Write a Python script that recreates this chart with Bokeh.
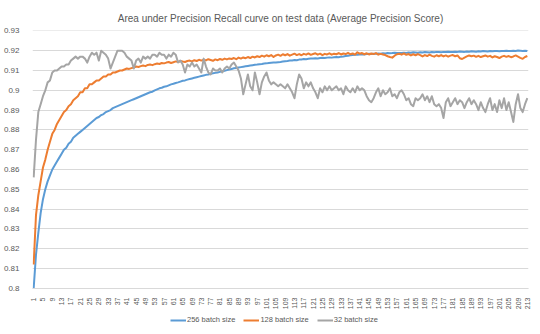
from bokeh.plotting import figure
from bokeh.layouts import column
from bokeh.models import Range1d, FixedTicker, Legend, LegendItem, ColumnDataSource
from bokeh.embed import file_html
from bokeh.resources import INLINE
import math

title_text = "Area under Precision Recall curve on test data (Average Precision Score)"
series_names = ["256 batch size", "128 batch size", "32 batch size"]
series_colors = ["#5B9BD5", "#ED7D31", "#A5A5A5"]

epochs = list(range(1, 214))
x_tick_values = list(range(1, 214, 4))
y_tick_values = [0.80, 0.81, 0.82, 0.83, 0.84, 0.85, 0.86, 0.87, 0.88, 0.89, 0.90, 0.91, 0.92, 0.93]
y_tick_labels = ["0.8", "0.81", "0.82", "0.83", "0.84", "0.85", "0.86", "0.87", "0.88", "0.89", "0.9", "0.91", "0.92", "0.93"]

batch_256 = [
    0.800, 0.817, 0.828, 0.838, 0.845, 0.850, 0.854, 0.857, 0.860, 0.862,
    0.864, 0.866, 0.868, 0.870, 0.871, 0.873, 0.874, 0.876, 0.877, 0.878,
    0.879, 0.880, 0.881, 0.882, 0.883, 0.884, 0.885, 0.886, 0.8865, 0.8875,
    0.888, 0.889, 0.8895, 0.890, 0.891, 0.8915, 0.892, 0.8925, 0.893, 0.8935,
    0.894, 0.8945, 0.895, 0.8955, 0.896, 0.8965, 0.897, 0.8975, 0.898, 0.8985,
    0.899, 0.8993, 0.900, 0.9005, 0.901, 0.9013, 0.9018, 0.902, 0.9025, 0.903,
    0.9033, 0.9037, 0.904, 0.9044, 0.9048, 0.905, 0.9054, 0.9057, 0.906, 0.9063,
    0.9066, 0.9069, 0.9072, 0.9075, 0.9078, 0.908, 0.9083, 0.9086, 0.9088, 0.909,
    0.9093, 0.9096, 0.9099, 0.9102, 0.9105, 0.9108, 0.9111, 0.9113, 0.9115, 0.9117,
    0.9119, 0.9121, 0.9123, 0.9125, 0.9127, 0.9129, 0.913, 0.9132, 0.9133, 0.9135,
    0.9136, 0.9138, 0.9139, 0.914, 0.9141, 0.9142, 0.9143, 0.9145, 0.9147, 0.9148,
    0.915, 0.9151, 0.9153, 0.9152, 0.9155, 0.9156, 0.9158, 0.9157, 0.9159, 0.916,
    0.9161, 0.9162, 0.9161, 0.9163, 0.9164, 0.9163, 0.9165, 0.9166, 0.9165, 0.9167,
    0.9168, 0.9167, 0.917, 0.9171, 0.9173, 0.9175, 0.9177, 0.9178, 0.9179, 0.918,
    0.9181, 0.9182, 0.9181, 0.9183, 0.9184, 0.9183, 0.9185, 0.9184, 0.9186, 0.9185,
    0.9187, 0.9186, 0.9188, 0.9187, 0.9188, 0.919, 0.9188, 0.9189, 0.9188, 0.919,
    0.9189, 0.9191, 0.919, 0.9192, 0.9191, 0.919, 0.9192, 0.9191, 0.9193, 0.9192,
    0.9191, 0.9193, 0.9192, 0.9194, 0.9193, 0.9192, 0.9194, 0.9193, 0.9195, 0.9194,
    0.9193, 0.9195, 0.9194, 0.9196, 0.9195, 0.9194, 0.9196, 0.9195, 0.9197, 0.9196,
    0.9195, 0.9197, 0.9196, 0.9198, 0.9197, 0.9196, 0.9198, 0.9197, 0.9199, 0.9198,
    0.9197, 0.9199, 0.9198, 0.92, 0.9199, 0.9198, 0.92, 0.9199, 0.9201, 0.92,
    0.9199, 0.92, 0.9198,
]

batch_128 = [
    0.812, 0.837, 0.847, 0.854, 0.861, 0.865, 0.870, 0.874, 0.878, 0.880,
    0.883, 0.885, 0.887, 0.889, 0.890, 0.892, 0.893, 0.895, 0.896, 0.897,
    0.899, 0.899, 0.901, 0.901, 0.903, 0.903, 0.904, 0.905, 0.905, 0.906,
    0.907, 0.907, 0.908, 0.908, 0.909, 0.909, 0.9095, 0.910, 0.910, 0.9105,
    0.911, 0.9108, 0.9112, 0.9115, 0.912, 0.9118, 0.9122, 0.9125, 0.9122, 0.9128,
    0.913, 0.9127, 0.9132, 0.9135, 0.9133, 0.9138, 0.9136, 0.914, 0.9143, 0.9138,
    0.9142, 0.9146, 0.9143, 0.9148, 0.9145, 0.9143, 0.9148, 0.915, 0.9146, 0.9152,
    0.9148, 0.9154, 0.915, 0.9155, 0.9151, 0.9157, 0.9153, 0.9149, 0.9156, 0.9152,
    0.9158, 0.9154, 0.916, 0.9156, 0.9161, 0.9158, 0.9163, 0.9157, 0.9165, 0.916,
    0.9166, 0.9162, 0.9168, 0.9163, 0.917, 0.9166, 0.9172, 0.9168, 0.9175, 0.917,
    0.9177, 0.9172, 0.9178, 0.9168, 0.9176, 0.918, 0.9174, 0.9182, 0.9177, 0.9183,
    0.9175, 0.918, 0.9185, 0.9178, 0.9183, 0.9177, 0.9184, 0.918, 0.9186, 0.9179,
    0.9183, 0.9187, 0.918, 0.9185, 0.9178, 0.9184, 0.9181, 0.9187, 0.918, 0.9185,
    0.9182, 0.9188, 0.9181, 0.9186, 0.9183, 0.9189, 0.9182, 0.9186, 0.918, 0.9192,
    0.9185, 0.9188, 0.9182, 0.9187, 0.9181, 0.9186, 0.9183, 0.9188, 0.918, 0.9184,
    0.9181, 0.9178, 0.9172, 0.9168, 0.9165, 0.9175, 0.9182, 0.9185, 0.918, 0.9186,
    0.9179, 0.9183, 0.9176, 0.9182, 0.9177, 0.9183, 0.9178, 0.9171, 0.9178, 0.9173,
    0.918, 0.9174, 0.917, 0.9177, 0.9172, 0.9178, 0.9171, 0.9176, 0.917, 0.9175,
    0.9178, 0.9172, 0.9176, 0.9162, 0.9158, 0.9165, 0.9171, 0.9176, 0.9172, 0.9175,
    0.9169, 0.9174, 0.9168, 0.9172, 0.9176, 0.917, 0.9174, 0.9166, 0.9172, 0.9168,
    0.9163, 0.917, 0.9174, 0.9169, 0.9173, 0.9167, 0.9171, 0.9176, 0.917, 0.9164,
    0.9159, 0.9168, 0.9173,
]

batch_32 = [
    0.856, 0.875, 0.889, 0.893, 0.897, 0.900, 0.904, 0.905, 0.909, 0.910,
    0.910, 0.911, 0.912, 0.912, 0.913, 0.913, 0.915, 0.916, 0.917, 0.916,
    0.917, 0.917, 0.916, 0.914, 0.917, 0.919, 0.918, 0.919, 0.915, 0.920,
    0.919, 0.918, 0.916, 0.911, 0.914, 0.917, 0.920, 0.920, 0.920, 0.919,
    0.917, 0.916, 0.915, 0.911, 0.915, 0.916, 0.914, 0.917, 0.916, 0.917,
    0.916, 0.918, 0.918, 0.917, 0.919, 0.918, 0.918, 0.916, 0.918, 0.917,
    0.919, 0.918, 0.914, 0.915, 0.913, 0.909, 0.913, 0.912, 0.914, 0.912,
    0.913, 0.911, 0.909, 0.916, 0.912, 0.909, 0.908, 0.911, 0.910, 0.910,
    0.911, 0.909, 0.911, 0.912, 0.911, 0.913, 0.914, 0.912, 0.910, 0.906,
    0.898, 0.903, 0.908, 0.902, 0.900, 0.909, 0.904, 0.898, 0.904, 0.907,
    0.909, 0.905, 0.903, 0.904, 0.903, 0.902, 0.903, 0.902, 0.901, 0.903,
    0.901, 0.899, 0.896, 0.903, 0.908, 0.906, 0.901, 0.904, 0.902, 0.904,
    0.901, 0.899, 0.896, 0.901, 0.899, 0.902, 0.900, 0.902, 0.900, 0.901,
    0.902, 0.900, 0.901, 0.898, 0.902, 0.900, 0.899, 0.901, 0.899, 0.902,
    0.900, 0.901, 0.900, 0.897, 0.895, 0.894, 0.896, 0.899, 0.901, 0.897,
    0.900, 0.898, 0.899, 0.901, 0.897, 0.898, 0.896, 0.899, 0.900, 0.898,
    0.895, 0.896, 0.893, 0.892, 0.896, 0.895, 0.896, 0.898, 0.895, 0.897,
    0.894, 0.897, 0.893, 0.892, 0.893, 0.891, 0.886, 0.894, 0.896, 0.892,
    0.894, 0.896, 0.893, 0.895, 0.894, 0.891, 0.894, 0.896, 0.893, 0.895,
    0.893, 0.890, 0.894, 0.891, 0.889, 0.893, 0.896, 0.890, 0.893, 0.889,
    0.895, 0.891, 0.896, 0.890, 0.894, 0.889, 0.884, 0.893, 0.898, 0.891,
    0.889, 0.893, 0.896,
]

FONT = "Liberation Sans"
TEXT_COLOR = "#595959"
GRID = "#D9D9D9"

p = figure(width=540, height=312, output_backend="svg", toolbar_location=None,
           x_range=Range1d(0.5, 213.5), y_range=Range1d(0.7999, 0.9302),
           min_border_left=27, min_border_right=12, min_border_top=30, min_border_bottom=21)

p.title.text = title_text
p.title.align = "center"
p.title.text_font = FONT
p.title.text_font_size = "10px"
p.title.text_font_style = "normal"
p.title.text_color = TEXT_COLOR
p.title.standoff = 14
p.title.offset = -65

p.outline_line_color = None
p.background_fill_color = "white"
p.border_fill_color = "white"

p.xgrid.grid_line_color = None
p.ygrid.grid_line_color = GRID
p.ygrid.grid_line_width = 1

p.yaxis.ticker = FixedTicker(ticks=y_tick_values)
p.yaxis.major_label_overrides = {v: l for v, l in zip(y_tick_values, y_tick_labels)}
p.yaxis.axis_line_color = None
p.yaxis.major_tick_line_color = None
p.yaxis.minor_tick_line_color = None
p.yaxis.major_label_text_font = FONT
p.yaxis.major_label_text_font_size = "8px"
p.yaxis.major_label_text_color = TEXT_COLOR
p.yaxis.major_label_standoff = 7

p.xaxis.ticker = FixedTicker(ticks=x_tick_values)
p.xaxis.major_label_orientation = math.pi / 2
p.xaxis.axis_line_color = GRID
p.xaxis.major_tick_line_color = None
p.xaxis.minor_tick_line_color = None
p.xaxis.major_label_text_font = FONT
p.xaxis.major_label_text_font_size = "7px"
p.xaxis.major_label_text_color = TEXT_COLOR
p.xaxis.major_label_standoff = 3

src = ColumnDataSource(dict(x=epochs, b256=batch_256, b128=batch_128, b32=batch_32))
renderers = []
for col, color in zip(["b256", "b128", "b32"], series_colors):
    r = p.line("x", col, source=src, line_color=color, line_width=2, line_join="round")
    renderers.append(r)

# Legend strip below the chart (its lines use the same data, kept out of view)
lg = figure(width=540, height=22, output_backend="svg", toolbar_location=None,
            x_range=Range1d(0.5, 213.5), y_range=Range1d(5, 6),
            min_border_left=0, min_border_right=0, min_border_top=0, min_border_bottom=0)
lg.axis.visible = False
lg.grid.visible = False
lg.outline_line_color = None
lg.border_fill_color = "white"
lg_renderers = [lg.line("x", col, source=src, line_color=c, line_width=2)
                for col, c in zip(["b256", "b128", "b32"], series_colors)]

legend = Legend(items=[LegendItem(label=n, renderers=[r]) for n, r in zip(series_names, lg_renderers)],
                orientation="horizontal")
legend.label_text_font = FONT
legend.label_text_font_size = "7.5px"
legend.label_text_color = TEXT_COLOR
legend.glyph_width = 16
legend.glyph_height = 8
legend.label_height = 8
legend.label_standoff = 1
legend.spacing = 8
legend.padding = 1
legend.margin = 0
legend.border_line_color = None
legend.background_fill_alpha = 0
legend.location = (138, 10)
lg.add_layout(legend)

layout = column(p, lg, spacing=0)
open("out.html", "w").write(file_html(layout, INLINE))
